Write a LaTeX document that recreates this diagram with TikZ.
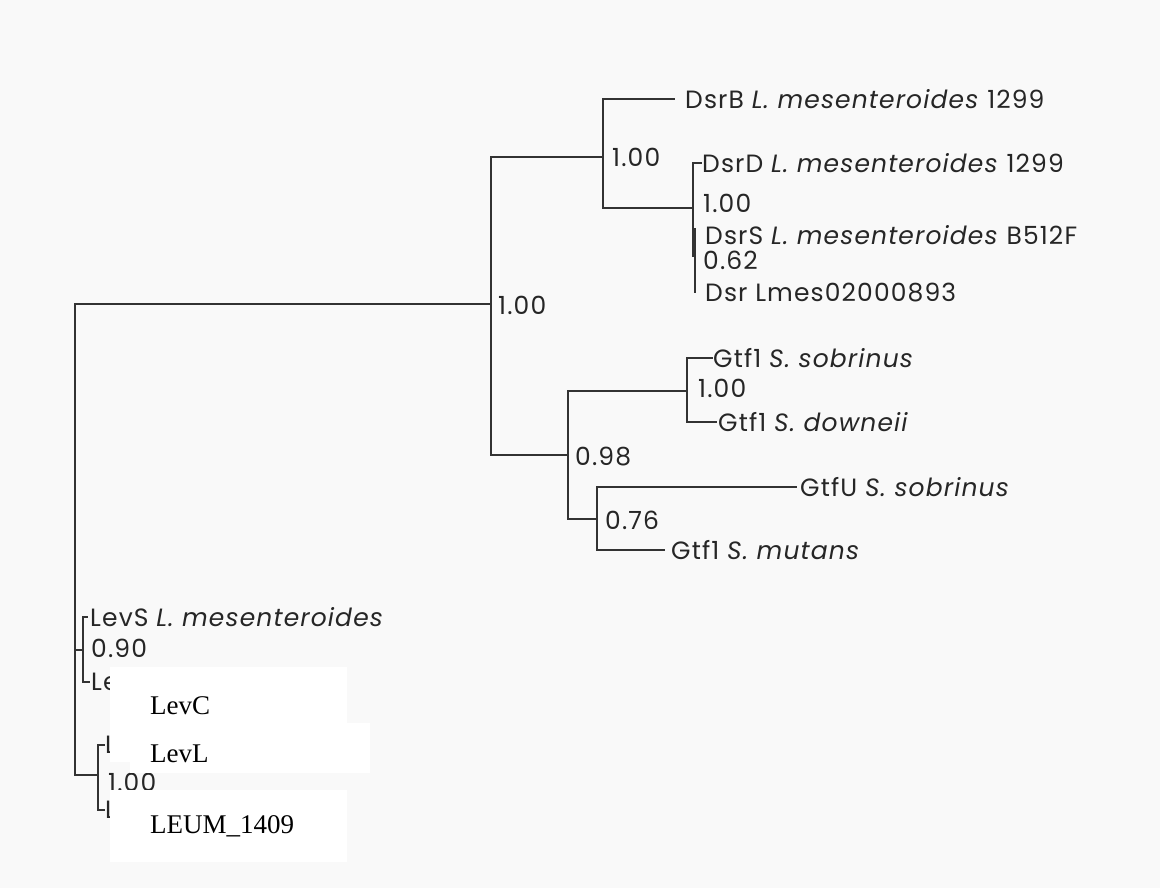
\documentclass[tikz,border=0pt]{standalone}
\usepackage{fontspec}
\setmainfont{Liberation Serif}
\newfontfamily\treefont[LetterSpace=4.5]{Poppins}

\begin{document}
\begin{tikzpicture}[x=1pt, y=-1pt,
    branch/.style={draw=black!80, line width=2.7pt},
    leaf/.style={anchor=west, inner ysep=0pt, inner xsep=#1, text=black!85,
      font=\treefont\fontsize{25}{29}\selectfont},
    leaf/.default=2pt,
    support/.style={anchor=west, inner sep=0pt, text=black!85,
      font=\treefont\fontsize{25}{29}\selectfont},
    patch/.style={fill=white, draw=none},
    relabel/.style={anchor=base west, inner sep=0pt, font=\fontsize{27}{30}\selectfont}]
  \fill[gray!5] (0,0) rectangle (1160,888);
  \useasboundingbox (0,0) rectangle (1160,888);

  % inner nodes
  \coordinate (root) at (75,540);
  \coordinate (n1) at (491,304);
  \coordinate (n2) at (603,157);
  \coordinate (n3) at (693,208);
  \coordinate (n4) at (695,245);
  \coordinate (n5) at (568,455);
  \coordinate (n6) at (687,391);
  \coordinate (n7) at (597,519);
  \coordinate (n8) at (83,650);
  \coordinate (n9) at (98,775);

  % leaves
  \node[leaf=10pt] (dsrb) at (675,99) {DsrB \textit{L. mesenteroides} 1299};
  \node[leaf=0pt] (dsrd) at (702,163) {DsrD \textit{L. mesenteroides} 1299};
  \node[leaf=10pt] (dsrs) at (695,235) {DsrS \textit{L. mesenteroides} B512F};
  \node[leaf=10pt] (lmes) at (695,293) {Dsr Lmes02000893};
  \node[leaf=0pt] (sob) at (713,358) {Gtf1 \textit{S. sobrinus}};
  \node[leaf=1pt] (dow) at (717,422) {Gtf1 \textit{S. downeii}};
  \node[leaf=3pt] (gtfu) at (797,487) {GtfU \textit{S. sobrinus}};
  \node[leaf=6pt] (mut) at (665,550) {Gtf1 \textit{S. mutans}};
  \node[leaf] (levs) at (88,617) {LevS \textit{L. mesenteroides}};
  \node[leaf=1pt] (levc) at (90,682) {Le};
  \node[leaf=0pt] (levl) at (105,745) {L};
  \node[leaf=0pt] (leum) at (105,810) {L};

  % branches
  \draw[branch] (root) |- (n1);
  \draw[branch] (root) |- (n8);
  \draw[branch] (root) |- (n9);
  \draw[branch] (n1) |- (n2);
  \draw[branch] (n1) |- (n5);
  \draw[branch] (n2) |- (dsrb);
  \draw[branch] (n2) |- (n3);
  \draw[branch] (n3) |- (dsrd);
  \draw[branch] (n3) |- (n4);
  \draw[branch] (n4) |- (dsrs);
  \draw[branch] (n4) |- (lmes);
  \draw[branch, line width=4.5pt] ([xshift=-1pt, yshift=17pt]n4) -- ([xshift=-1pt, yshift=-12pt]n4);
  \draw[branch] (n5) |- (n6);
  \draw[branch] (n5) |- (n7);
  \draw[branch] (n6) |- (sob);
  \draw[branch] (n6) |- (dow);
  \draw[branch] (n7) |- (gtfu);
  \draw[branch] (n7) |- (mut);
  \draw[branch] (n8) |- (levs);
  \draw[branch] (n8) |- (levc);
  \draw[branch] (n9) |- (levl);
  \draw[branch] (n9) |- (leum);

  % support values
  \node[support] (s1) at (498,305) {1.00};
  \node[support] (s2) at (612,157) {1.00};
  \node[support] (s3) at (703,203) {1.00};
  \node[support] (s4) at (703,260) {0.62};
  \node[support] (s5) at (575,457) {0.98};
  \node[support] (s6) at (698,388) {1.00};
  \node[support] (s7) at (605,520) {0.76};
  \node[support] (s8) at (91,648) {0.90};
  \node[support] (s9) at (108,782) {1.00};

  % pasted-over names
  \fill[patch] (110,667) rectangle (347,762);
  \fill[patch] (130,723) rectangle (370,773);
  \fill[patch] (110,790) rectangle (347,862);
  \node[relabel] (newlevc) at (150,714) {LevC};
  \node[relabel] (newlevl) at (150,762) {LevL};
  \node[relabel] (newleum) at (150,833) {LEUM\_1409};
\end{tikzpicture}
\end{document}
